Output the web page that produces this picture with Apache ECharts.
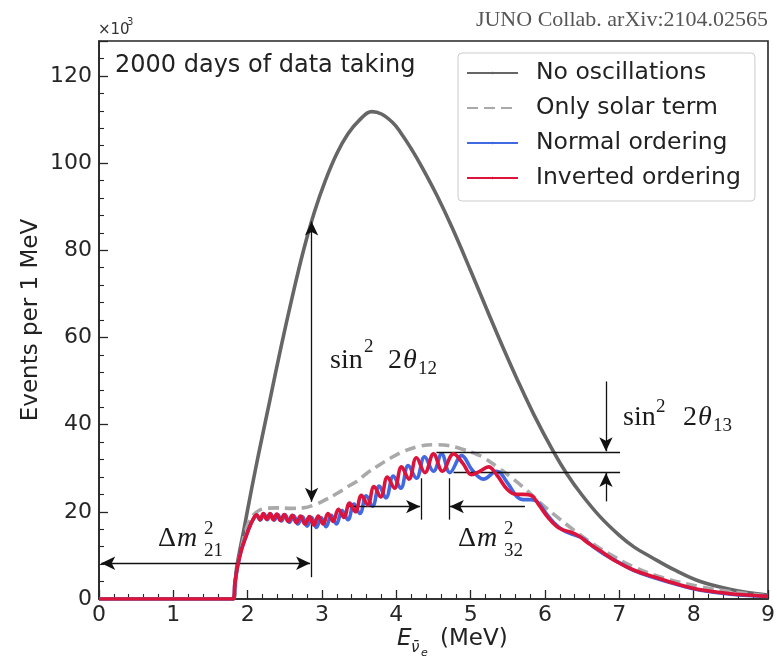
<!DOCTYPE html>
<html><head><meta charset="utf-8">
<script src="https://cdn.jsdelivr.net/npm/echarts@6/dist/echarts.min.js"></script>
<style>html,body{margin:0;padding:0;background:#fff}#c{width:777px;height:661px}</style>
</head><body><div id="c"></div>
<script>
// ---- data (x: antineutrino energy in MeV, y: events per 1 MeV in units of 10^3) ----
const noOscillations = [[0,0],[1.7,0],[1.8,0],[1.85,7],[1.95,16],[2.05,25],[2.15,33.5],[2.3,45.7],[2.45,57.9],[2.6,69.3],[2.75,79.9],[2.9,88.9],[3.05,96.2],[3.2,102.2],[3.35,106.7],[3.5,109.8],[3.67,111.8],[3.8,111.25],[3.95,109.3],[4.05,107.2],[4.2,103.3],[4.35,98.9],[4.545,92.6],[4.75,85.2],[5.0,75.3],[5.25,65.1],[5.45,57.1],[5.62,50.6],[5.85,42.3],[6.11,33.9],[6.29,28.8],[6.5,23.8],[6.74,18.9],[7.0,14.6],[7.2,11.9],[7.42,9.7],[7.75,6.6],[8.09,4.0],[8.5,2.2],[9.0,0.9]];
const solarTerm = [[0,0],[1.7,0],[1.8,0],[1.85,6],[1.92,12],[2.0,17],[2.08,19.3],[2.15,20.3],[2.25,20.8],[2.4,20.9],[2.6,20.8],[2.75,20.9],[2.9,21.6],[3.05,22.8],[3.2,24.2],[3.35,25.8],[3.47,27.0],[3.6,28.8],[3.75,30.5],[3.92,32.3],[4.1,33.9],[4.3,35.0],[4.5,35.4],[4.7,35.2],[4.9,34.3],[5.05,33.4],[5.17,32.5],[5.35,30.4],[5.53,28.1],[5.75,25.0],[5.94,22.0],[6.15,19.0],[6.38,15.9],[6.6,13.2],[6.85,10.5],[7.19,7.4],[7.6,4.8],[8.09,2.8],[8.5,1.7],[9.0,0.7]];
const normalOrdering = [[0,0],[1.7,0],[1.8,0],[1.83,4],[1.87,8],[1.92,11.5],[1.97,14],[2.02,16.3],[2.07,18.1],[2.12,19.2],[2.17,18.1],[2.22,19.5],[2.265,18.2],[2.31,19.5],[2.36,18.1],[2.405,19.4],[2.455,17.9],[2.505,19.3],[2.56,17.6],[2.62,19.1],[2.675,17.2],[2.735,18.9],[2.8,16.7],[2.86,18.7],[2.925,16.4],[2.99,18.6],[3.055,16.6],[3.125,19.2],[3.195,17.2],[3.27,20.3],[3.35,18.2],[3.43,21.8],[3.51,19.6],[3.595,23.7],[3.68,21.3],[3.77,25.9],[3.86,23.2],[3.96,28.2],[4.06,25.4],[4.16,30.6],[4.27,27.7],[4.38,32.6],[4.5,29.3],[4.61,33.3],[4.72,29.0],[4.88,32.9],[5.02,29.6],[5.17,27.5],[5.35,29.3],[5.5,26.5],[5.62,23.5],[5.71,22.8],[5.8,22.8],[5.89,22.4],[6.0,20.0],[6.12,17.5],[6.25,15.7],[6.38,14.8],[6.5,14.0],[6.65,12.0],[6.8,10.2],[6.96,8.7],[7.2,6.5],[7.46,4.9],[7.8,3.2],[8.09,2.0],[8.5,1.1],[9.0,0.6]];
const invertedOrdering = [[0,0],[1.7,0],[1.8,0],[1.83,4],[1.87,8],[1.92,11.5],[1.97,14],[2.02,16.3],[2.07,18.2],[2.12,19.3],[2.165,18.2],[2.21,19.6],[2.255,18.3],[2.3,19.6],[2.345,18.2],[2.39,19.5],[2.44,18.0],[2.49,19.4],[2.545,17.8],[2.6,19.2],[2.655,17.5],[2.71,19.0],[2.77,17.2],[2.83,18.9],[2.89,17.0],[2.95,19.0],[3.015,17.2],[3.08,19.6],[3.15,17.8],[3.22,20.6],[3.295,18.7],[3.37,22.0],[3.45,20.0],[3.53,23.8],[3.615,21.6],[3.7,25.8],[3.79,23.4],[3.88,28.0],[3.975,25.4],[4.07,30.3],[4.17,27.5],[4.27,32.4],[4.385,29.0],[4.5,33.3],[4.62,29.3],[4.77,33.3],[4.9,31.0],[5.01,28.5],[5.12,29.3],[5.24,30.3],[5.35,28.5],[5.5,25.0],[5.62,24.0],[5.72,24.0],[5.82,23.7],[5.92,21.5],[6.05,18.5],[6.16,16.6],[6.25,15.8],[6.35,15.3],[6.45,14.5],[6.6,12.6],[6.75,11.0],[6.96,8.6],[7.2,6.6],[7.46,5.1],[7.8,3.3],[8.09,2.1],[8.5,1.2],[9.0,0.6]];
const seriesNames = ['No oscillations','Only solar term','Normal ordering','Inverted ordering'];
// annotation segments in data coordinates: [x1,y1,x2,y2,startArrow,endArrow]
const annotationSegments = [
  [2.86,86.6,2.86,22.3,1,1],
  [2.86,18.9,2.86,5.0,0,0],
  [0.03,8.2,2.84,8.2,1,1],
  [3.36,21.2,4.32,21.2,0,1],
  [4.33,27.7,4.33,18.2,0,0],
  [4.71,27.7,4.71,18.2,0,0],
  [5.73,21.2,4.72,21.2,0,1],
  [4.54,33.6,7.01,33.6,0,0],
  [4.77,29.0,7.01,29.0,0,0],
  [6.82,49.9,6.82,33.9,0,1],
  [6.82,22.4,6.82,28.9,0,1]
];

const chart = echarts.init(document.getElementById('c'), null, {renderer:'canvas'});
const SANS = 'DejaVu Sans';
const SERIF = 'Liberation Serif';
const AX = '#262626';

function mk(seg){
  const A = [10,14];
  return [
    {coord:[seg[0],seg[1]], symbol: seg[4]?'arrow':'none', symbolSize:A},
    {coord:[seg[2],seg[3]], symbol: seg[5]?'arrow':'none', symbolSize:A}
  ];
}
// text placed by its baseline (converted to a middle anchor)
function t(x,base,text,size,opts){
  opts = opts||{};
  const ff = opts.ff||SERIF;
  const k = ff===SERIF ? 0.3375 : 0.346;
  return {type:'text', x:x, y:base - k*size, silent:true, z:100, style:{
    text:text, fontSize:size, fontFamily:ff, fontStyle:opts.it?'italic':'normal',
    fill:opts.fill||'#1a1a1a', align:opts.align||'left', verticalAlign:'middle'}};
}

const graphics = [
  t(98,35,'×10',15,{ff:SANS,fill:'#333'}),
  t(127,26,'3',10,{ff:SANS,fill:'#333'}),
  t(768,28,'JUNO Collab. arXiv:2104.02565',22,{fill:'#555',align:'right'}),
  t(115,74,'2000 days of data taking',24,{ff:SANS,fill:'#222'}),
  // sin^2 2theta12
  t(330,370,'sin',28), t(364,353,'2',19), t(388,370,'2',28), t(403,370,'θ',28,{it:1}), t(418,375,'12',19),
  // sin^2 2theta13
  t(623,427,'sin',28), t(656,413,'2',19), t(683,427,'2',28), t(698,427,'θ',28,{it:1}), t(713,432,'13',19),
  // Delta m^2_21
  t(158,548,'Δ',28), t(177,548,'m',28,{it:1}), t(204,535,'2',19), t(204,557,'21',19),
  // Delta m^2_32
  t(458,548,'Δ',28), t(477,548,'m',28,{it:1}), t(504,535,'2',19), t(504,557,'32',19),
  // axis titles
  t(397,647,'E',23,{ff:SANS,it:1,fill:'#222'}),
  t(411,653,'ν̄',15,{ff:SANS,it:1,fill:'#222'}),
  t(421,657,'e',11,{ff:SANS,it:1,fill:'#222'}),
  t(440,647,'(MeV)',23,{ff:SANS,fill:'#222'}),
  {type:'text', x:31, y:320, rotation:Math.PI/2, silent:true, z:100,
   style:{text:'Events per 1 MeV', fontSize:23, fontFamily:SANS, fill:'#222', align:'center', verticalAlign:'middle'}}
];

const baseLine = (name,data,color,dash,z)=>({
  type:'line', name:name, data:data, symbol:'none', smooth:0.4,
  lineStyle:{color:color, width:3.6, type:dash||'solid', cap:'butt', join:'round'},
  itemStyle:{color:color}, z:z, animation:false, clip:true, silent:true
});

const option = {
  animation:false,
  backgroundColor:'#fff',
  grid:{left:99,right:9,top:41,bottom:62,show:true,borderColor:AX,borderWidth:1.6,containLabel:false,outerBoundsMode:'none',backgroundColor:'transparent'},
  xAxis:{type:'value',min:0,max:9,interval:1,
    axisLine:{show:true,onZero:false,lineStyle:{color:AX,width:1.6}},
    axisTick:{show:true,inside:true,length:9,lineStyle:{color:AX,width:1.3}},
    minorTick:{show:true,splitNumber:5,length:5,lineStyle:{color:AX,width:1.1}},
    axisLabel:{fontSize:22,fontFamily:SANS,color:'#262626',margin:5},
    splitLine:{show:false},minorSplitLine:{show:false}},
  yAxis:{type:'value',min:0,max:128,interval:20,
    axisLine:{show:true,onZero:false,lineStyle:{color:AX,width:1.6}},
    axisTick:{show:true,inside:true,length:9,lineStyle:{color:AX,width:1.3}},
    minorTick:{show:true,splitNumber:5,length:5,lineStyle:{color:AX,width:1.1}},
    axisLabel:{fontSize:22,fontFamily:SANS,color:'#262626',margin:7,showMaxLabel:false},
    splitLine:{show:false},minorSplitLine:{show:false}},
  legend:{show:true,orient:'vertical',left:458,top:53,data:seriesNames,
    itemWidth:51,itemHeight:3,itemGap:11,
    padding:[8,14,11,8],
    backgroundColor:'rgba(255,255,255,0.85)',borderColor:'#cccccc',borderWidth:1,borderRadius:4,
    textStyle:{fontSize:23.5,fontFamily:SANS,color:'#222',padding:[0,0,0,13],lineHeight:24},
    selectedMode:false},
  graphic:graphics,
  series:[
    baseLine(seriesNames[0],noOscillations,'#666666',null,2),
    baseLine(seriesNames[1],solarTerm,'#a9a9a9',[11,6],3),
    baseLine(seriesNames[2],normalOrdering,'#4169e1',null,4),
    baseLine(seriesNames[3],invertedOrdering,'#dc143c',null,5),
    {type:'line',name:'annotations',data:[],z:6,silent:true,
     markLine:{silent:true,animation:false,label:{show:false},
       lineStyle:{color:'#111',width:1.3,type:'solid'},
       emphasis:{disabled:true},
       data:annotationSegments.map(mk)}}
  ]
};
chart.setOption(option);
</script></body></html>
